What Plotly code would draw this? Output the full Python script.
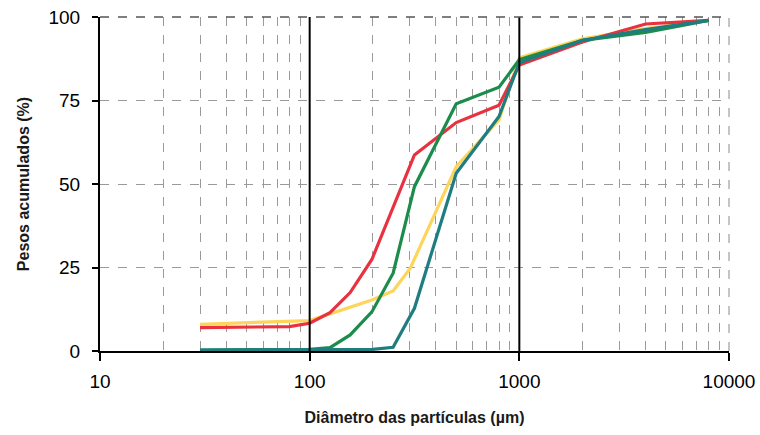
import plotly.graph_objects as go

# Particle diameter (µm) and cumulative weight (%) for each curve
yellow_x = [30, 100, 198, 250, 302, 500, 800, 1000, 2000, 4000, 8000]
yellow_y = [8.0, 9.1, 15.3, 18.0, 24.8, 55.2, 69.2, 87.8, 93.5, 96.5, 99.0]

red_x = [30, 80, 100, 125, 156, 198, 316, 500, 800, 1000, 2000, 4000, 8000]
red_y = [7.0, 7.3, 8.3, 11.5, 17.5, 27.4, 58.7, 68.4, 73.6, 85.6, 92.5, 97.9, 99.0]

green_x = [30, 100, 125, 156, 198, 250, 316, 500, 800, 1000, 2000, 4000, 8000]
green_y = [0.3, 0.5, 1.0, 4.8, 11.7, 23.3, 49.2, 74.0, 79.0, 87.2, 93.0, 95.4, 99.0]

teal_x = [30, 100, 200, 250, 316, 500, 800, 1000, 2000, 4000, 8000]
teal_y = [0.3, 0.3, 0.5, 1.1, 12.8, 53.2, 70.2, 86.3, 93.0, 96.2, 99.0]

x_ticks = [10, 100, 1000, 10000]
x_ticktext = ["10", "100", "1000", "10000"]
y_ticks = [0, 25, 50, 75, 100]

FONT = "Liberation Sans, Arial, sans-serif"

fig = go.Figure()
for xs, ys, col in [
    (yellow_x, yellow_y, "#fcd55a"),
    (red_x, red_y, "#e8323f"),
    (green_x, green_y, "#1b8c4b"),
    (teal_x, teal_y, "#1f7d80"),
]:
    fig.add_trace(go.Scatter(x=xs, y=ys, mode="lines",
                             line=dict(color=col, width=3.2),
                             showlegend=False, hoverinfo="skip"))

minor_vals = [m * 10 ** e for e in range(1, 4) for m in range(2, 10)]

fig.update_layout(
    width=760, height=435,
    margin=dict(l=100, r=31, t=17, b=84),
    paper_bgcolor="white", plot_bgcolor="white",
    font=dict(family=FONT, color="black", size=19),
    xaxis=dict(
        type="log", range=[1, 4], automargin=False,
        tickmode="array", tickvals=x_ticks, ticktext=x_ticktext,
        ticks="outside", ticklen=8, tickwidth=1.5, tickcolor="black",
        ticklabelstandoff=4,
        showline=True, linecolor="black", linewidth=2,
        showgrid=False, zeroline=False,
        minor=dict(tickmode="array", tickvals=minor_vals, showgrid=True,
                   gridcolor="#9a9a9a", griddash="dash", gridwidth=1, ticks=""),
        title=dict(text="Diâmetro das partículas (µm)",
                   font=dict(family=FONT, size=16, weight="bold", color="#1a1a1a"),
                   standoff=21),
        tickfont=dict(family=FONT, size=19, color="black"),
    ),
    yaxis=dict(
        range=[0, 100], automargin=False,
        tickmode="array", tickvals=y_ticks,
        ticks="outside", ticklen=6, tickwidth=1.5, tickcolor="black",
        ticklabelstandoff=8,
        showline=True, linecolor="black", linewidth=2,
        showgrid=True, gridcolor="#9a9a9a", griddash="dash", gridwidth=1,
        zeroline=False,
        title=dict(text="Pesos acumulados (%)",
                   font=dict(family=FONT, size=16, weight="bold", color="#1a1a1a"),
                   standoff=15),
        tickfont=dict(family=FONT, size=19, color="black"),
    ),
    shapes=[
        dict(type="line", xref="x", yref="paper", x0=100, x1=100, y0=0, y1=1,
             line=dict(color="black", width=2)),
        dict(type="line", xref="x", yref="paper", x0=1000, x1=1000, y0=0, y1=1,
             line=dict(color="black", width=2)),
        dict(type="line", xref="paper", yref="paper", x0=1, x1=1, y0=0, y1=1,
             line=dict(color="#8a8a8a", width=1, dash="dash")),
        dict(type="line", xref="paper", yref="paper", x0=0, x1=1, y0=1, y1=1,
             line=dict(color="#555555", width=1.5, dash="dash")),
    ],
)

fig.write_html("out.html")
